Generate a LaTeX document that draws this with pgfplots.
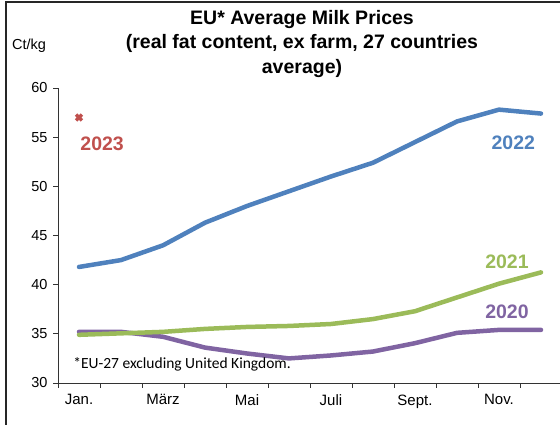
\documentclass[border=0pt]{standalone}
\usepackage{pgfplots}
\pgfplotsset{compat=1.18}
\usepackage{fontspec}
\setmainfont{Liberation Sans}
\newfontfamily\calibri{Carlito}
\definecolor{c22}{HTML}{4F81BD}
\definecolor{c21}{HTML}{9BBB59}
\definecolor{c20}{HTML}{8064A2}
\definecolor{c23}{HTML}{C0504D}
\begin{document}
\begin{tikzpicture}[x=1pt,y=1pt]
\begin{axis}[
  at={(58pt,42pt)}, anchor=south west,
  scale only axis, width=504pt, height=295pt,
  xmin=0.5, xmax=12.5, ymin=30, ymax=60,
  axis x line*=bottom, axis y line*=left,
  axis line style={line width=0.8pt, black!80},
  xtick={1,3,5,7,9,11},
  xticklabels={Jan.,März,Mai,Juli,Sept.,Nov.},
  major x tick style={draw=none},
  minor xtick={0.5,1.5,...,12.5},
  ytick={30,35,...,60},
  tick align=outside,
  major tick length=5pt, minor tick length=5pt,
  tick style={line width=0.8pt, black!80},
  xticklabel style={yshift=-3pt, font=\fontsize{15}{17}\selectfont},
  yticklabel style={xshift=-2pt, font=\fontsize{14.5}{16}\selectfont},
  /pgf/number format/assume math mode=true,
  clip=false,
]
\addplot[c20, line width=4.5pt, line join=round, line cap=round] coordinates {(1,35.2)(2,35.2)(3,34.7)(4,33.6)(5,33.0)(6,32.5)(7,32.8)(8,33.2)(9,34.05)(10,35.1)(11,35.4)(12,35.4)};
\addplot[c21, line width=4.5pt, line join=round, line cap=round] coordinates {(1,34.9)(2,35.05)(3,35.2)(4,35.5)(5,35.7)(6,35.8)(7,36.0)(8,36.5)(9,37.3)(10,38.7)(11,40.1)(12,41.25)};
\addplot[c22, line width=4.5pt, line join=round, line cap=round] coordinates {(1,41.8)(2,42.5)(3,44.0)(4,46.3)(5,48.0)(6,49.5)(7,51.0)(8,52.4)(9,54.5)(10,56.6)(11,57.8)(12,57.4)};
\addplot[c23, only marks, mark=x, mark size=4.2pt, line width=3.2pt] coordinates {(1,57.0)};
\node[anchor=west, text=c23, font=\bfseries\fontsize{19.5}{22}\selectfont] at (axis cs:0.95,54.3) {2023};
\node[text=c22, font=\bfseries\fontsize{19.5}{22}\selectfont] at (axis cs:11.34,54.4) {2022};
\node[text=c21, font=\bfseries\fontsize{19.5}{22}\selectfont] at (axis cs:11.19,42.3) {2021};
\node[text=c20, font=\bfseries\fontsize{19.5}{22}\selectfont] at (axis cs:11.19,37.25) {2020};
\node[anchor=west, font=\calibri\fontsize{15.5}{18}\selectfont, inner sep=0pt] at (axis cs:0.86,31.9) {*EU-27 excluding United Kingdom.};
\end{axis}
\draw[line width=1.3pt, black!85] (6,0) -- (6,423) -- (560,423);
\node[align=center, font=\bfseries\fontsize{19.5}{24.5}\selectfont] at (302,381) {EU* Average Milk Prices\\(real fat content, ex farm, 27 countries\\average)};
\node[anchor=west, inner sep=0pt, font=\fontsize{14.5}{16}\selectfont] at (12,379) {Ct/kg};
\pgfresetboundingbox
\path[use as bounding box] (0,0) rectangle (560,425);
\end{tikzpicture}
\end{document}
